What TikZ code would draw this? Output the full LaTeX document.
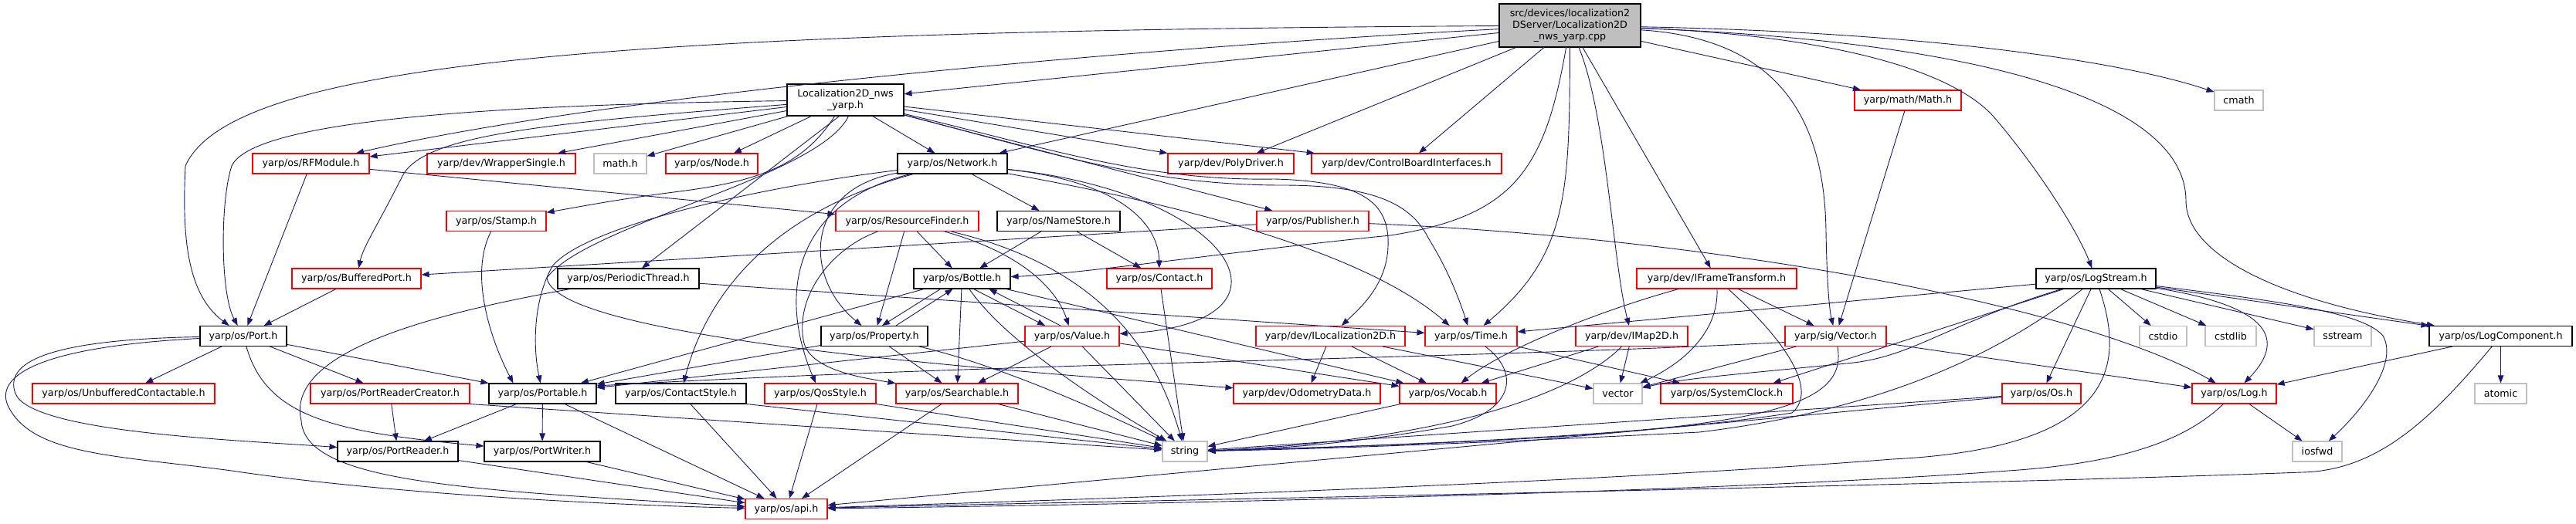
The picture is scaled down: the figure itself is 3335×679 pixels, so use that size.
\documentclass[tikz,border=0pt]{standalone}
\usepackage{fontspec}
\setmainfont{DejaVu Sans}
\usetikzlibrary{arrows.meta}
\definecolor{edgeblue}{HTML}{191970}
\definecolor{sysgray}{HTML}{BFBFBF}
\begin{document}
\begin{tikzpicture}[x=1pt,y=-1pt,
  hbox/.style={draw,line width=1.1pt,inner sep=0pt,minimum height=26pt,
    font=\fontsize{12.7pt}{14.7pt}\selectfont,text=black},
  redbox/.style={hbox,draw=red},
  blkbox/.style={hbox,draw=black},
  sysbox/.style={hbox,draw=sysgray},
  dep/.style={draw=edgeblue,line width=0.9pt,-{Triangle[length=10pt,width=7.5pt]}}]
\fill[white] (0,0) rectangle (3335,679);
\useasboundingbox (0,0) rectangle (3335,679);

% ---------- nodes ----------
\node[blkbox,fill=sysgray,minimum width=183pt,minimum height=56pt,align=center] (main) at (2032.5,33) {src/devices/localization2\\DServer/Localization2D\\\_nws\_yarp.cpp};
\node[blkbox,minimum width=151pt,minimum height=41pt,align=center] (loc) at (1094.5,129.5) {Localization2D\_nws\\\_yarp.h};
\node[redbox,minimum width=138pt] (mathm) at (2470,130) {yarp/math/Math.h};
\node[sysbox,minimum width=63pt] (cmath) at (2898.5,130) {cmath};
\node[redbox,minimum width=151pt] (rfm) at (402.5,212) {yarp/os/RFModule.h};
\node[redbox,minimum width=192pt] (wrap) at (649,212) {yarp/dev/WrapperSingle.h};
\node[sysbox,minimum width=68pt] (mathh) at (803,212) {math.h};
\node[redbox,minimum width=119pt] (nodeh) at (921.5,212) {yarp/os/Node.h};
\node[blkbox,minimum width=142pt] (net) at (1233,212) {yarp/os/Network.h};
\node[redbox,minimum width=163pt] (poly) at (1593.5,212) {yarp/dev/PolyDriver.h};
\node[redbox,minimum width=246pt] (cbi) at (1821,212) {yarp/dev/ControlBoardInterfaces.h};
\node[redbox,minimum width=129pt] (stamp) at (642.5,286.5) {yarp/os/Stamp.h};
\node[redbox,minimum width=185pt] (rf) at (1174.5,286.5) {yarp/os/ResourceFinder.h};
\node[blkbox,minimum width=159pt] (ns) at (1370.5,286.5) {yarp/os/NameStore.h};
\node[redbox,minimum width=145pt] (pub) at (1699.5,286.5) {yarp/os/Publisher.h};
\node[redbox,minimum width=167pt] (bp) at (461.5,361) {yarp/os/BufferedPort.h};
\node[blkbox,minimum width=183pt] (pth) at (813.5,361) {yarp/os/PeriodicThread.h};
\node[blkbox,minimum width=125pt] (bottle) at (1245.5,361) {yarp/os/Bottle.h};
\node[redbox,minimum width=136pt] (contact) at (1501,361) {yarp/os/Contact.h};
\node[redbox,minimum width=207pt] (ift) at (2222.5,361) {yarp/dev/IFrameTransform.h};
\node[blkbox,minimum width=155pt] (ls) at (2713.5,361) {yarp/os/LogStream.h};
\node[blkbox,minimum width=112pt] (port) at (315,435.5) {yarp/os/Port.h};
\node[blkbox,minimum width=138pt] (prop) at (1132,435.5) {yarp/os/Property.h};
\node[redbox,minimum width=122pt] (value) at (1388,435.5) {yarp/os/Value.h};
\node[redbox,minimum width=193pt] (iloc) at (1722.5,435.5) {yarp/dev/ILocalization2D.h};
\node[redbox,minimum width=119pt] (timeh) at (1904.5,435.5) {yarp/os/Time.h};
\node[redbox,minimum width=145pt] (imap) at (2112.5,435.5) {yarp/dev/IMap2D.h};
\node[redbox,minimum width=131pt] (vec) at (2376.5,435.5) {yarp/sig/Vector.h};
\node[sysbox,minimum width=61pt] (cstdio) at (2800.5,435.5) {cstdio};
\node[sysbox,minimum width=66pt] (cstdlib) at (2888,435.5) {cstdlib};
\node[sysbox,minimum width=74pt] (sstream) at (3033,435.5) {sstream};
\node[blkbox,minimum width=185pt] (lc) at (3237.5,435.5) {yarp/os/LogComponent.h};
\node[redbox,minimum width=236pt] (uc) at (160,510) {yarp/os/UnbufferedContactable.h};
\node[redbox,minimum width=206pt] (prc) at (505,510) {yarp/os/PortReaderCreator.h};
\node[blkbox,minimum width=139pt] (portable) at (702.5,510) {yarp/os/Portable.h};
\node[blkbox,minimum width=169pt] (cs) at (881.5,510) {yarp/os/ContactStyle.h};
\node[redbox,minimum width=144pt] (qos) at (1062,510) {yarp/os/QosStyle.h};
\node[redbox,minimum width=158pt] (search) at (1239,510) {yarp/os/Searchable.h};
\node[redbox,minimum width=190pt] (odo) at (1692,510) {yarp/dev/OdometryData.h};
\node[redbox,minimum width=125pt] (vocab) at (1874.5,510) {yarp/os/Vocab.h};
\node[sysbox,minimum width=63pt] (vectorh) at (2094.5,510) {vector};
\node[redbox,minimum width=171pt] (sc) at (2235.5,510) {yarp/os/SystemClock.h};
\node[redbox,minimum width=102pt] (osh) at (2643,510) {yarp/os/Os.h};
\node[redbox,minimum width=109pt] (logh) at (2892.5,510) {yarp/os/Log.h};
\node[sysbox,minimum width=67pt] (atomic) at (3237.5,510) {atomic};
\node[blkbox,minimum width=156pt] (pr) at (515,585) {yarp/os/PortReader.h};
\node[blkbox,minimum width=150pt] (pw) at (702,585) {yarp/os/PortWriter.h};
\node[sysbox,minimum width=58pt] (stringh) at (1534,585) {string};
\node[sysbox,minimum width=64pt] (iosfwd) at (3000,585) {iosfwd};
\node[redbox,minimum width=106pt] (api) at (1018,659.5) {yarp/os/api.h};

% ---------- main ----------
\draw[dep] (main) -- (loc);
\draw[dep] (main) .. controls (800,40) and (300,80) .. (240,215) .. controls (236,300) and (240,380) .. (port);
\draw[dep] (main) .. controls (1500,60) and (800,120) .. (rfm);
\draw[dep] (main) -- (net);
\draw[dep] (main) -- (poly);
\draw[dep] (main) -- (cbi);
\draw[dep] (main) .. controls (2000,220) and (1960,280) .. (1800,305) .. controls (1600,325) and (1400,355) .. (bottle);
\draw[dep] (main) .. controls (2032,250) and (2030,330) .. (timeh);
\draw[dep] (main) .. controls (2080,150) and (2088,340) .. (imap);
\draw[dep] (main) -- (ift);
\draw[dep] (main) .. controls (2300,50) and (2362,150) .. (2364,300) .. controls (2365,360) and (2368,400) .. (vec);
\draw[dep] (main) -- (mathm);
\draw[dep] (main) .. controls (2350,45) and (2520,85) .. (2580,150) .. controls (2640,220) and (2690,300) .. (ls);
\draw[dep] (main) .. controls (2600,55) and (2830,140) .. (2830,260) .. controls (2830,330) and (2950,390) .. (lc);
\draw[dep] (main) .. controls (2500,42) and (2750,80) .. (cmath);

% ---------- Localization2D_nws_yarp.h ----------
\draw[dep] (loc) .. controls (700,135) and (330,150) .. (300,215) .. controls (285,260) and (285,380) .. (port);
\draw[dep] (loc) -- (rfm);
\draw[dep] (loc) .. controls (700,160) and (545,175) .. (520,230) .. controls (490,290) and (470,320) .. (bp);
\draw[dep] (loc) -- (wrap);
\draw[dep] (loc) -- (mathh);
\draw[dep] (loc) -- (nodeh);
\draw[dep] (loc) -- (net);
\draw[dep] (loc) -- (pub);
\draw[dep] (loc) -- (cbi);
\draw[dep] (loc) -- (poly);
\draw[dep] (loc) .. controls (1350,190) and (1480,235) .. (1650,232) .. controls (1760,235) and (1800,260) .. (1797,320) .. controls (1795,370) and (1760,400) .. (iloc);
\draw[dep] (loc) .. controls (1350,195) and (1480,240) .. (1660,240) .. controls (1790,240) and (1830,270) .. (1850,310) .. controls (1875,350) and (1890,390) .. (timeh);
\draw[dep] ([xshift=-14pt]loc.south) .. controls (1040,215) and (980,235) .. (880,248) .. controls (800,258) and (750,268) .. (stamp);
\draw[dep] ([xshift=-8pt]loc.south) -- (pth);
\draw[dep] ([xshift=4pt]loc.south) .. controls (1060,230) and (760,290) .. (708,360) .. controls (720,440) and (1300,480) .. (odo);

% ---------- Network.h ----------
\draw[dep] (net) .. controls (1000,240) and (760,290) .. (715,345) .. controls (690,390) and (690,450) .. (portable);
\draw[dep] (net) -- (ns);
\draw[dep] (net) .. controls (1450,235) and (1500,290) .. (contact);
\draw[dep] (net) .. controls (1600,250) and (1700,420) .. (value);
\draw[dep] (net) .. controls (1040,245) and (1040,360) .. (prop);
\draw[dep] (net) .. controls (980,280) and (910,400) .. (cs);
\draw[dep] (net) .. controls (1020,265) and (1010,390) .. (qos);
\draw[dep] (net) .. controls (1500,260) and (1760,320) .. ([xshift=-28pt]timeh.north);

% ---------- ResourceFinder / NameStore / RFModule ----------
\draw[dep] (rf) -- (prop);
\draw[dep] (rf) -- (bottle);
\draw[dep] (rf) .. controls (1330,330) and (1370,380) .. (value);
\draw[dep] (rf) .. controls (1080,320) and (1030,380) .. (1040,440) .. controls (1045,480) and (1120,490) .. (search);
\draw[dep] (rf) .. controls (1400,340) and (1490,430) .. (stringh);
\draw[dep] (ns) -- (bottle);
\draw[dep] (ns) -- (contact);
\draw[dep] (rfm) -- (port);
\draw[dep] (rfm) -- (rf);
\draw[dep] (bp) -- (port);
\draw[dep] (pub) -- (bp);
\draw[dep] (pub) .. controls (2250,310) and (2700,400) .. (logh);
\draw[dep] (stamp) .. controls (605,360) and (640,450) .. ([xshift=-38pt]portable.north);
\draw[dep] (pth) -- (timeh);
\draw[dep] (pth) .. controls (540,410) and (370,460) .. (390,545) .. controls (395,625) and (600,635) .. (api);

% ---------- Port ----------
\draw[dep] (port) -- (uc);
\draw[dep] (port) -- (prc);
\draw[dep] (port) -- (portable);
\draw[dep] (port) .. controls (345,540) and (430,560) .. (pw);
\draw[dep] (port) .. controls (60,440) and (5,470) .. (20,510) .. controls (40,560) and (300,570) .. (pr);
\draw[dep] (port) .. controls (40,450) and (-5,490) .. (10,525) .. controls (40,590) and (150,590) .. (300,610) .. controls (500,640) and (800,655) .. (api);
\draw[dep] (prc) -- (pr);
\draw[dep] (prc.south east) -- (stringh);
\draw[dep] (portable) -- (pr);
\draw[dep] (portable) -- (pw);
\draw[dep] (portable) -- (api);
\draw[dep] (pr) -- (api);
\draw[dep] (pw) -- (api);
\draw[dep] (cs.south east) -- (stringh);
\draw[dep] (cs) -- (api);
\draw[dep] (qos.south east) -- (stringh);
\draw[dep] (qos) -- (api);
\draw[dep] (search) -- (stringh);
\draw[dep] (search) -- (api);

% ---------- Bottle / Property / Value ----------
\draw[dep] ([xshift=-28pt]bottle.south) -- ([xshift=10pt]prop.north);
\draw[dep] ([xshift=28pt]prop.north) -- ([xshift=-12pt]bottle.south);
\draw[dep] ([xshift=15pt]bottle.south) -- ([xshift=-35pt]value.north);
\draw[dep] ([xshift=-15pt]value.north) -- ([xshift=35pt]bottle.south);
\draw[dep] (bottle) -- (search);
\draw[dep] (bottle) .. controls (1300,440) and (1420,520) .. (stringh);
\draw[dep] (bottle) -- (portable);
\draw[dep] (bottle) -- (vocab);
\draw[dep] (prop) -- (search);
\draw[dep] (prop) .. controls (1280,470) and (1400,520) .. (stringh);
\draw[dep] (prop) -- (portable);
\draw[dep] (value) -- (search);
\draw[dep] (value) -- (stringh);
\draw[dep] (value) -- (portable);
\draw[dep] (value) -- (vocab);
\draw[dep] (contact) -- (stringh);

% ---------- dev / sig ----------
\draw[dep] ([yshift=-8pt]vec.west) .. controls (1900,465) and (1300,470) .. ([yshift=10pt]portable.east);
\draw[dep] (vec) -- (logh);
\draw[dep] (vec) .. controls (2395,540) and (2250,565) .. (stringh);
\draw[dep] (vec) -- (vectorh);
\draw[dep] (mathm) -- (vec);
\draw[dep] (ift) .. controls (2080,400) and (1950,450) .. (vocab);
\draw[dep] (ift) .. controls (2225,430) and (2180,470) .. (vectorh);
\draw[dep] (ift) .. controls (2310,440) and (2355,505) .. (2320,535) .. controls (2100,570) and (1700,580) .. (stringh);
\draw[dep] (ift) -- (vec);
\draw[dep] (imap) -- (vocab);
\draw[dep] (imap) .. controls (2050,500) and (1900,570) .. (stringh);
\draw[dep] (imap) -- (vectorh);
\draw[dep] (iloc) -- (odo);
\draw[dep] (iloc) -- (vocab);
\draw[dep] (iloc) -- (vectorh);
\draw[dep] (timeh) .. controls (1965,480) and (1965,530) .. (1880,552) .. controls (1750,575) and (1650,582) .. (stringh);
\draw[dep] (timeh) -- (sc);
\draw[dep] (vocab) -- (stringh);

% ---------- logging ----------
\draw[dep] (osh) -- (stringh);
\draw[dep] (osh) -- (api);
\draw[dep] (ls) -- (timeh);
\draw[dep] (ls) .. controls (2520,420) and (2480,460) .. (2400,470) .. controls (2250,485) and (2180,490) .. (vectorh);
\draw[dep] (ls) -- ([xshift=60pt]sc.north);
\draw[dep] (ls) .. controls (2600,450) and (2450,530) .. (2200,560) .. controls (1900,575) and (1700,582) .. (stringh);
\draw[dep] (ls) .. controls (2750,470) and (2745,580) .. (2450,595) .. controls (2000,630) and (1300,650) .. (api);
\draw[dep] (ls) -- (osh);
\draw[dep] (ls) -- (cstdio);
\draw[dep] (ls) -- (cstdlib);
\draw[dep] (ls) -- (sstream);
\draw[dep] (ls) .. controls (2960,400) and (2950,450) .. (logh);
\draw[dep] (ls) -- (lc);
\draw[dep] (ls) .. controls (2950,390) and (3060,405) .. (3085,435) .. controls (3105,470) and (3060,530) .. (iosfwd);
\draw[dep] (lc) -- (logh);
\draw[dep] (lc) -- (atomic);
\draw[dep] (lc) .. controls (3150,540) and (3080,610) .. (2980,612) .. controls (2500,630) and (1400,650) .. (api);
\draw[dep] (logh) -- (iosfwd);
\draw[dep] (logh) .. controls (2830,570) and (2750,600) .. (2600,610) .. controls (2200,640) and (1400,655) .. (api);
\end{tikzpicture}
\end{document}
